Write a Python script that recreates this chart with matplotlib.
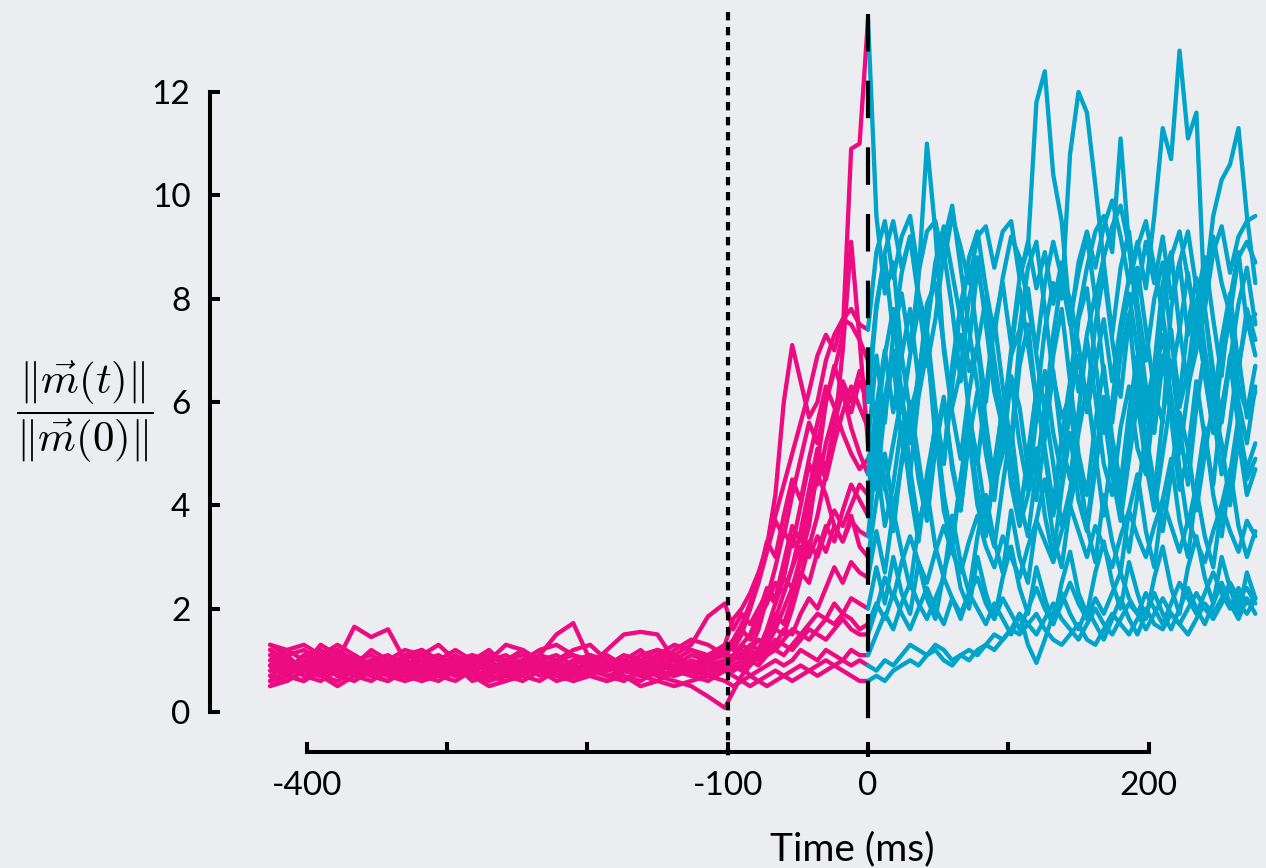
import matplotlib
matplotlib.use("Agg")
import matplotlib.pyplot as plt

plt.rcParams['mathtext.fontset'] = 'cm'
plt.rcParams['font.family'] = ['Lato', 'DejaVu Sans']

BG = '#ECEDF1'
PINK = '#EC0B80'
CYAN = '#00A3C9'

# time grids (ms)
pink_t = [-426, -414, -402, -390, -378, -366, -354, -342, -330, -318, -306, -294, -282, -270,
          -258, -246, -234, -222, -210, -198, -186, -174, -162, -150, -138, -126, -114, -102,
          -96, -90, -84, -78, -72, -66, -60, -54, -48, -42, -36, -30, -24, -18, -12, -6, 0]
cyan_t = [0, 6, 12, 18, 24, 30, 36, 42, 48, 54, 60, 66, 72, 78, 84, 90, 96, 102, 108, 114,
          120, 126, 132, 138, 144, 150, 156, 162, 168, 174, 180, 186, 192, 198, 204, 210, 216,
          222, 228, 234, 240, 246, 252, 258, 264, 270, 276]

# pre-movement traces (pink)
p01 = [1.0,0.8,1.1,0.9,0.7, 0.9,1.2,1.0,0.8,0.7, 0.9,1.1,0.9,0.8,1.0, 0.9,0.7,0.8,1.0,1.1, 0.9,0.8,0.7,0.9,1.0, 0.8,0.9,1.0,
       1.1,1.0,1.2,1.4,1.3, 1.6,2.0,2.4,3.0,3.6, 4.8,6.0,6.6,7.3,10.9, 11.0,13.4]
p02 = [0.7,0.9,0.8,1.0,1.2, 0.9,0.7,0.6,0.8,1.0, 0.9,0.7,0.8,1.0,1.1, 0.9,0.8,0.6,0.7,0.9, 1.0,0.8,0.9,1.1,1.0, 0.8,0.7,0.9,
       0.8,0.9,1.1,1.0,1.3, 1.6,1.5,2.0,2.6,3.2, 3.8,4.6,5.4,7.0,9.1, 7.2,5.2]
p03 = [1.2,1.0,0.9,0.8,1.0, 1.65,1.45,1.6,1.0,0.8, 0.9,1.0,0.8,0.7,0.9, 1.0,0.8,0.9,0.7,0.8, 1.0,0.9,0.8,1.1,1.0, 1.2,1.1,1.3,
       1.8,2.0,2.3,2.7,3.2, 4.2,6.0,7.1,6.4,5.7, 6.0,6.8,7.3,7.6,7.5, 7.2,6.8]
p04 = [0.9,1.1,0.8,0.7,0.9, 1.0,0.8,0.9,1.1,1.0, 0.8,0.9,1.0,1.2,0.9, 0.8,1.1,1.5,1.72,1.0, 0.8,0.9,1.0,0.8,0.7, 0.9,1.0,1.1,
       1.0,1.3,1.2,1.6,2.2, 2.8,3.5,3.2,4.0,4.8, 4.4,5.2,5.8,6.4,6.0, 6.6,6.2]
p05 = [0.6,0.8,1.0,0.9,0.7, 0.8,1.0,0.9,0.7,0.6, 0.8,1.0,1.1,0.9,0.8, 0.7,0.9,1.0,0.8,0.9, 1.2,1.5,1.55,1.5,1.0, 0.9,0.8,1.0,
       1.1,1.3,1.5,1.9,2.4, 2.2,2.9,3.6,3.3,4.2, 4.9,4.5,5.2,5.8,6.3, 5.9,5.5]
p06 = [1.3,1.1,1.2,1.0,0.8, 0.9,0.7,0.8,1.0,1.2, 1.0,0.9,0.7,0.8,1.0, 0.9,1.1,1.0,0.8,0.7, 0.9,1.0,0.8,1.0,1.1, 1.3,1.85,2.1,
       1.6,1.9,1.7,2.0,2.3, 2.1,2.6,2.4,2.9,3.3, 3.0,3.5,3.9,3.6,4.0, 4.4,4.2]
p07 = [0.5,0.7,0.6,0.8,0.9, 0.7,0.6,0.8,0.9,0.7, 0.6,0.8,0.7,0.5,0.6, 0.8,0.9,0.7,0.6,0.8, 0.7,0.6,0.8,0.7,0.6, 0.5,0.3,0.08,
       0.4,0.7,0.9,1.2,1.6, 2.1,2.6,3.4,3.0,3.8, 4.6,4.2,3.6,3.3,3.8, 3.2,3.0]
p08 = [0.8,1.0,0.9,1.3,1.1, 0.8,0.9,1.0,0.7,0.8, 1.0,1.2,1.0,0.9,0.8, 1.0,0.9,0.7,0.9,1.1, 1.0,0.9,1.0,0.8,0.9, 1.1,1.0,1.3,
       1.2,1.5,2.0,2.6,3.2, 3.8,4.4,5.0,5.6,6.2, 6.9,7.3,7.0,7.6,7.8, 7.5,7.4]
p09 = [1.1,0.9,0.7,0.8,1.0, 1.1,0.9,0.8,0.9,1.1, 1.3,1.0,0.8,0.9,0.7, 0.8,1.0,1.1,0.9,0.8, 0.9,1.0,1.2,0.9,0.8, 1.0,0.9,0.8,
       0.9,1.0,1.2,1.1,1.4, 1.8,2.3,2.8,3.5,4.3, 5.1,4.7,5.6,6.2,5.5, 5.0,4.6]
p10 = [0.9,0.7,0.9,1.1,1.2, 1.0,0.8,0.7,0.9,1.0, 0.8,0.7,0.9,1.1,1.0, 0.8,0.9,1.0,1.2,1.3, 1.0,0.9,0.7,0.8,1.0, 0.9,1.0,1.2,
       1.0,1.1,1.3,1.2,1.5, 1.9,1.7,2.2,2.7,2.5, 3.1,3.6,3.3,3.9,4.4, 4.1,3.8]
p11 = [0.7,0.6,0.8,0.9,0.7, 0.6,0.8,1.0,0.9,0.7, 0.8,0.9,0.6,0.7,0.9, 1.0,0.8,0.7,0.9,0.7, 0.6,0.8,0.9,0.7,0.8, 0.9,0.7,0.8,
       0.9,0.8,1.0,1.2,1.1, 1.3,1.6,1.5,1.9,2.2, 2.0,2.4,2.8,2.5,2.9, 2.7,2.6]
p12 = [1.3,1.2,1.0,0.9,1.1, 1.0,0.8,0.9,1.1,1.2, 1.0,0.8,0.9,0.8,1.0, 1.1,0.9,0.8,1.0,0.9, 0.8,0.9,1.1,1.2,1.0, 0.8,0.9,1.0,
       1.1,1.0,0.9,1.1,1.3, 1.2,1.4,1.6,1.5,1.7, 1.9,1.8,2.1,1.9,2.2, 2.1,2.0]
p13 = [0.5,0.6,0.8,0.7,0.5, 0.7,0.9,0.8,0.6,0.7, 0.9,0.8,0.7,0.6,0.8, 0.7,0.6,0.8,0.9,0.7, 0.6,0.7,0.5,0.6,0.8, 0.7,0.8,0.9,
       0.8,0.9,1.0,0.9,1.1, 1.2,1.1,1.3,1.5,1.4, 1.6,1.8,1.7,1.9,1.8, 1.6,1.7]
p14 = [1.0,1.2,1.3,1.1,0.9, 0.8,1.0,1.1,0.9,0.8, 0.7,0.9,1.1,1.0,0.8, 0.9,1.0,0.9,0.8,1.0, 1.1,0.9,0.8,0.9,1.0, 0.8,0.7,0.9,
       1.0,1.2,1.1,1.0,1.2, 1.4,1.3,1.2,1.4,1.6, 1.5,1.4,1.6,1.8,1.6, 1.5,1.5]
p15 = [0.8,0.9,0.7,0.6,0.8, 0.9,1.0,0.8,0.7,0.9, 1.0,0.9,0.8,1.0,1.3, 1.2,0.9,0.8,0.7,0.9, 0.8,1.0,0.9,0.8,0.7, 0.8,1.0,0.9,
       0.8,0.9,0.7,0.8,0.9, 1.0,0.9,1.0,1.2,1.1, 1.0,1.2,1.1,1.0,1.2, 1.1,1.1]
p16 = [0.6,0.8,0.9,0.7,0.6, 0.8,0.7,0.6,0.8,0.9, 0.7,0.6,0.8,0.7,0.6, 0.7,0.9,0.8,0.6,0.7, 0.9,0.8,0.7,0.6,0.5, 0.6,0.7,0.6,
       0.5,0.6,0.7,0.6,0.7, 0.8,0.7,0.8,0.9,0.8, 0.9,1.0,0.9,1.0,0.9, 1.0,0.9]
p17 = [0.9,0.7,0.6,0.9,1.0, 0.8,0.7,0.9,0.8,0.6, 0.7,0.8,1.0,0.9,0.7, 0.6,0.8,0.9,0.7,0.8, 0.9,0.7,0.6,0.8,0.9, 0.7,0.6,0.8,
       0.7,0.6,0.5,0.6,0.5, 0.6,0.7,0.6,0.7,0.8, 0.7,0.8,0.9,0.8,0.7, 0.6,0.6]
p18 = [1.1,1.0,0.8,0.7,0.9, 1.0,1.1,0.9,0.8,1.0, 1.1,0.9,0.7,0.8,1.0, 1.2,1.0,0.9,0.8,0.7, 0.9,1.1,1.0,0.9,1.2, 1.4,1.3,1.1,
       1.3,1.6,1.4,1.8,2.1, 2.5,2.3,2.8,3.2,3.0, 3.4,3.1,3.6,3.3,3.7, 3.5,3.4]
p19 = [0.6,0.8,1.1,1.2,1.0, 0.8,0.9,0.7,0.6,0.8, 0.7,0.9,0.8,0.6,0.7, 0.9,0.8,1.0,1.1,0.9, 0.7,0.8,0.9,1.1,1.3, 1.2,1.0,1.1,
       1.3,1.6,2.0,2.5,3.1, 3.7,3.4,4.2,4.9,5.6, 5.2,6.0,6.7,6.2,5.8, 6.4,6.0]
p20 = [1.2,1.0,0.9,1.1,1.3, 1.1,0.9,1.0,1.2,1.1, 0.9,0.8,1.0,1.1,0.9, 1.0,1.2,1.3,1.1,1.0, 0.8,0.9,1.0,1.2,1.1, 0.9,1.1,1.2,
       1.4,1.7,2.1,2.6,3.3, 3.0,3.8,4.5,4.1,4.9, 5.6,6.3,5.9,5.4,5.0, 4.7,4.9]

# post-movement traces (cyan)
c01 = [13.4,9.6,8.1,8.7,6.9,5.8,6.4,7.9,8.3,7.1, 5.9,6.6,8.0,8.8,7.5,6.2,5.5,6.9,7.4,8.6,
       9.1,7.8,6.5,5.7,6.1,7.6,8.2,6.8,5.4,6.0, 7.3,8.1,7.0,5.9,6.7,8.3,8.9,7.4,6.3,7.0,
       7.8,6.4,5.6,6.8,7.9,8.6,7.5]
c02 = [5.2,6.9,5.6,7.3,8.1,7.0,8.4,11.0,9.3,7.0, 5.8,4.9,6.2,7.1,5.6,4.4,5.0,6.5,5.9,4.7,
       4.1,5.3,6.6,5.2,4.5,5.8,7.2,6.1,4.8,4.2, 5.5,6.3,5.1,4.6,6.0,6.9,5.7,4.3,5.0,6.4,
       5.3,4.4,5.9,6.8,5.5,4.7,5.2]
c03 = [6.8,5.4,6.9,7.8,6.1,5.2,6.6,7.4,5.9,4.8, 6.3,7.9,8.6,7.2,6.0,7.5,8.3,7.1,8.4,9.0,
       11.8,12.4,10.4,9.5,7.6,6.2,7.3,8.1,6.5,5.6, 6.9,7.7,6.0,5.1,6.4,7.3,6.1,5.0,6.2,7.5,
       6.6,5.4,6.8,7.6,6.3,5.8,6.7]
c04 = [6.2,7.9,8.8,7.3,8.5,9.2,8.0,6.7,7.6,8.9, 7.8,6.4,7.1,8.6,7.7,6.3,5.6,7.0,8.2,7.1,
       6.0,7.4,8.3,8.0,10.8,12.0,11.6,10.2,8.7,7.3, 8.6,9.3,7.9,6.8,8.0,8.7,7.2,6.1,7.5,8.4,
       7.0,5.9,7.2,8.1,6.7,7.6,6.9]
c05 = [5.5,4.3,5.9,6.8,5.2,4.6,6.1,7.0,5.7,4.9, 6.4,7.3,5.8,4.8,6.2,7.6,6.3,5.1,6.7,7.5,
       6.0,5.3,6.9,7.8,6.4,7.7,8.6,9.3,9.6,8.9, 11.1,9.0,7.6,6.3,5.4,6.8,7.4,5.9,6.6,7.9,
       6.5,5.5,7.0,8.0,6.6,7.8,7.2]
c06 = [4.2,5.6,4.4,3.5,4.9,5.8,4.5,3.7,5.1,6.0, 4.8,3.9,5.3,6.2,5.0,4.1,5.5,6.4,5.2,4.3,
       5.7,6.6,5.4,4.6,6.0,6.9,5.8,6.7,7.6,6.4, 7.5,8.4,9.1,8.2,9.6,11.3,10.7,12.8,11.1,11.6,
       7.8,6.6,5.7,6.9,6.0,5.2,6.3]
c07 = [3.0,4.1,5.0,3.9,4.8,6.0,4.9,3.8,5.2,6.1, 4.7,3.9,5.4,4.3,3.5,4.6,5.8,4.5,3.7,5.0,
       6.2,5.1,4.0,5.3,6.4,5.0,4.2,5.6,6.7,5.3, 4.4,5.8,6.9,5.6,6.6,7.7,6.5,7.4,8.5,7.3,
       8.2,9.6,10.3,10.6,11.3,9.6,8.3]
c08 = [7.4,8.9,9.5,8.4,9.2,9.6,8.5,9.3,9.5,8.7, 9.6,9.0,8.3,9.2,9.4,8.6,9.3,9.5,8.4,9.1,
       8.2,8.9,7.9,8.7,7.6,8.5,9.2,8.0,8.8,9.4, 9.8,9.0,8.1,9.1,8.3,9.2,8.0,8.7,9.3,8.2,
       7.8,8.9,9.4,8.5,9.2,9.5,9.6]
c09 = [4.6,5.9,7.0,5.8,6.9,7.8,6.4,7.6,8.5,9.1, 9.8,8.6,7.4,6.3,5.2,4.5,6.0,5.1,3.9,4.8,
       6.2,5.0,3.8,4.6,5.9,4.7,3.6,4.9,6.1,5.2, 4.0,5.4,6.6,5.3,4.2,5.7,6.8,5.5,4.4,5.9,
       7.0,5.8,4.6,5.6,6.9,5.7,6.2]
c10 = [3.8,4.9,3.6,4.4,5.6,4.3,3.3,4.6,5.5,3.9, 3.2,4.5,5.3,4.0,3.4,4.8,5.9,4.4,3.6,4.2,
       5.1,3.8,3.0,4.3,5.4,4.1,3.5,4.7,5.8,4.6, 3.7,4.9,6.0,4.8,3.9,5.0,6.1,4.7,3.6,4.4,
       5.5,4.2,3.4,4.6,5.7,4.5,4.9]
c11 = [2.6,3.5,2.7,3.9,3.1,2.4,3.6,4.3,3.2,2.6, 3.8,2.9,2.3,3.4,4.2,3.3,2.7,3.9,3.0,2.5,
       3.7,4.5,3.4,2.8,4.0,4.8,3.6,2.9,4.2,3.3, 2.7,3.9,4.6,3.5,2.8,4.1,4.9,3.7,3.0,4.3,
       3.4,2.8,4.0,4.7,3.6,3.0,3.5]
c12 = [2.0,2.8,2.1,3.0,2.3,1.9,2.9,2.2,1.8,2.7, 3.3,2.4,2.0,3.0,2.3,1.8,2.6,3.2,2.4,1.9,
       2.8,2.2,1.7,2.5,3.1,2.3,1.9,2.7,3.3,2.5, 2.0,2.9,2.3,1.8,2.6,3.2,2.4,1.9,2.8,3.4,
       2.6,2.1,3.0,2.4,1.9,2.7,2.2]
c13 = [1.7,2.1,1.8,2.3,1.9,1.6,2.0,2.4,2.0,1.7, 2.2,1.8,2.3,2.6,2.1,1.8,2.2,1.9,1.6,2.0,
       2.4,2.0,1.7,2.1,2.5,2.1,1.8,2.2,1.9,2.3, 2.7,2.2,1.9,2.3,2.0,1.7,2.1,2.5,2.2,1.9,
       2.3,2.7,2.3,2.0,2.4,2.1,2.2]
c14 = [1.5,2.0,2.6,2.2,2.9,3.4,2.9,2.5,3.1,3.6, 3.1,2.7,3.3,3.8,3.2,2.8,3.4,3.0,2.6,3.2,
       3.7,3.3,2.9,3.5,4.0,3.5,3.0,3.6,3.2,2.8, 3.4,3.9,3.4,3.0,3.6,4.1,3.6,3.1,3.7,3.3,
       2.9,3.5,4.0,3.5,3.1,3.7,3.4]
c15 = [1.1,1.5,1.9,1.6,2.1,2.5,2.1,1.8,2.2,2.6, 2.2,1.9,2.3,2.0,1.7,2.1,1.8,1.5,1.9,1.3,
       0.95,1.4,1.9,2.3,1.9,1.6,2.0,1.7,1.4,1.8, 2.2,1.8,1.5,1.9,2.3,1.9,1.6,2.0,2.4,2.0,
       1.7,2.1,2.5,2.1,1.8,2.2,1.9]
c16 = [0.9,0.8,1.0,0.9,1.1,1.3,1.2,1.1,1.3,1.2, 1.0,1.1,1.2,1.1,1.3,1.5,1.4,1.6,1.9,1.7,
       1.5,1.8,2.1,1.8,1.6,1.4,1.7,2.0,1.7,1.5, 1.8,2.1,1.9,1.6,1.9,2.2,1.9,1.7,2.0,2.3,
       2.0,1.8,2.1,2.4,2.1,1.9,2.2]
c17 = [0.6,0.7,0.6,0.8,0.9,1.0,0.9,1.1,1.2,1.0, 0.9,1.1,1.0,1.2,1.3,1.2,1.4,1.6,1.5,1.7,
       1.9,1.6,1.4,1.3,1.5,1.7,1.4,1.3,1.6,1.9, 1.7,1.5,1.8,2.0,1.7,1.6,1.9,1.7,1.5,1.8,
       2.1,1.9,2.2,2.5,2.2,2.4,2.1]
c18 = [3.4,5.0,6.1,7.0,5.8,6.9,7.8,7.2,5.3,4.8, 6.7,7.9,6.6,7.1,8.0,6.8,5.7,5.2,7.2,8.2,
       6.9,5.8,7.3,8.4,8.0,7.1,6.0,7.5,8.5,7.2, 6.1,7.6,8.6,7.4,6.2,5.6,7.8,8.7,7.3,7.9,
       8.8,7.6,6.5,8.0,8.9,7.5,7.7]
c19 = [6.0,7.8,8.9,9.5,8.6,9.2,8.1,7.4,8.7,9.4, 8.5,7.6,8.8,9.3,8.2,7.3,8.4,9.2,8.8,7.9,
       7.0,8.3,9.1,8.4,7.5,8.7,9.3,8.6,9.4,9.9, 9.2,8.3,9.0,9.5,8.6,7.7,8.8,9.3,8.4,7.6,
       8.5,9.2,8.3,7.7,8.8,9.1,8.7]
c20 = [4.9,5.4,4.3,5.2,6.1,4.7,3.6,4.3,5.6,4.2, 3.3,4.5,5.7,4.9,3.8,3.2,4.4,5.5,4.1,3.4,
       4.7,5.9,4.8,3.6,4.3,5.4,6.3,5.0,3.8,5.1, 4.0,3.1,4.2,5.4,4.4,3.5,4.6,5.8,5.1,3.9,
       5.0,6.0,5.2,4.0,5.3,4.2,4.7]

pink_traces = [p01, p02, p03, p04, p05, p06, p07, p08, p09, p10,
               p11, p12, p13, p14, p15, p16, p17, p18, p19, p20]
cyan_traces = [c01, c02, c03, c04, c05, c06, c07, c08, c09, c10,
               c11, c12, c13, c14, c15, c16, c17, c18, c19, c20]

x_ticks = [-400, -300, -200, -100, 0, 100, 200]
x_tick_labels = ['-400', '', '', '-100', '0', '', '200']
y_ticks = [0, 2, 4, 6, 8, 10, 12]
y_tick_labels = ['0', '2', '4', '6', '8', '10', '12']

fig = plt.figure(figsize=(12.66, 8.68), dpi=100, facecolor=BG)
ax = fig.add_axes([0, 0, 1, 1])
ax.set_facecolor(BG)
ax.set_xlim(-618.5, 283.6)
ax.set_ylim(-3.02, 13.78)

for v in pink_traces:
    ax.plot(pink_t[:len(v)], v, color=PINK, lw=3.1, solid_joinstyle='round',
            solid_capstyle='round', zorder=2)
for v in cyan_traces:
    ax.plot(cyan_t[:len(v)], v, color=CYAN, lw=3.1, solid_joinstyle='round',
            solid_capstyle='round', zorder=3)

ax.plot([-100, -100], [13.55, -0.89], color='black', lw=3.0,
        linestyle=(0, (2.0, 1.6)), zorder=5)
ax.plot([0, 0], [13.5, -0.87], color='black', lw=3.0,
        linestyle=(0, (9, 7)), zorder=5)

for s in ['top', 'right']:
    ax.spines[s].set_visible(False)
ax.spines['left'].set_position(('data', -468.9))
ax.spines['left'].set_bounds(0, 12)
ax.spines['bottom'].set_position(('data', -0.774))
ax.spines['bottom'].set_bounds(-400, 200)
for s in ['left', 'bottom']:
    ax.spines[s].set_linewidth(2.9)

ax.set_xticks(x_ticks)
ax.set_xticklabels(x_tick_labels)
ax.set_yticks(y_ticks)
ax.set_yticklabels(y_tick_labels)
ax.tick_params(direction='in', length=7, width=2.9, labelsize=24, pad=14, colors='black')

fig.text(85 / 1266, 1 - 412 / 868, r'$\dfrac{\|\vec{m}(t)\|}{\|\vec{m}(0)\|}$',
         ha='center', va='center', fontsize=31)
fig.text(852 / 1266, 1 - 860 / 868, 'Time (ms)', ha='center', va='baseline', fontsize=28)

fig.savefig('out.png', dpi=100, facecolor=BG)
